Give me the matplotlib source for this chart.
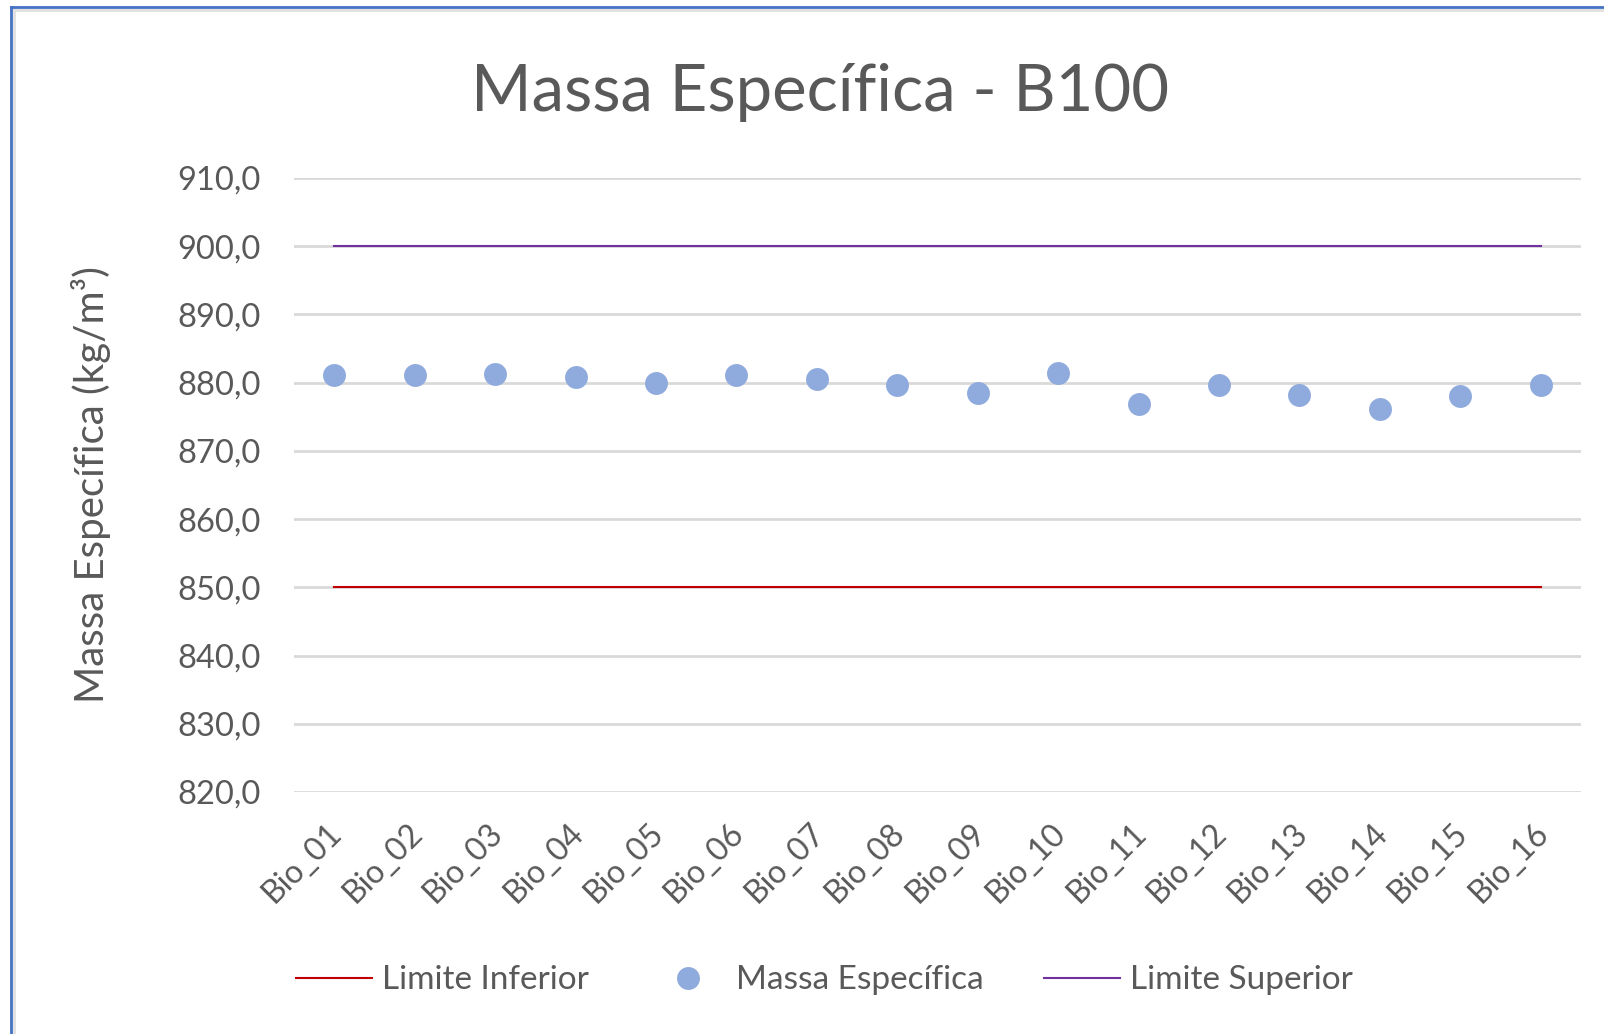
import matplotlib
matplotlib.use('Agg')
import matplotlib.pyplot as plt
import matplotlib.transforms as mtransforms
from matplotlib.lines import Line2D

plt.rcParams['font.family'] = ['Lato', 'DejaVu Sans']

# dados
amostras = ['Bio_01', 'Bio_02', 'Bio_03', 'Bio_04', 'Bio_05', 'Bio_06', 'Bio_07', 'Bio_08',
            'Bio_09', 'Bio_10', 'Bio_11', 'Bio_12', 'Bio_13', 'Bio_14', 'Bio_15', 'Bio_16']
massa = [881.1, 881.1, 881.3, 880.8, 880.0, 881.1, 880.5, 879.7,
         878.5, 881.4, 876.9, 879.7, 878.2, 876.2, 878.0, 879.7]
lim_inf = [850.0] * len(amostras)
lim_sup = [900.0] * len(amostras)
yticks = [820, 830, 840, 850, 860, 870, 880, 890, 900, 910]

cinza = '#595959'
W, H = 1604, 1034
fig = plt.figure(figsize=(W / 100, H / 100), dpi=100)
ax = fig.add_axes([294 / W, 1 - 792 / H, (1581 - 294) / W, (792 - 178) / H])

x = list(range(len(amostras)))
ax.plot(x, lim_inf, color='#C00000', lw=1.5, label='Limite Inferior', zorder=3)
ax.plot(x, massa, 'o', color='#8FAADC', ms=16.5, mec='none', label='Massa Específica', zorder=4)
ax.plot(x, lim_sup, color='#7030A0', lw=1.5, label='Limite Superior', zorder=3)

ax.set_xlim(-0.5, len(amostras) - 0.5)
ax.set_ylim(820, 910)
ax.set_yticks(yticks)
ax.set_yticklabels([f'{v:.1f}'.replace('.', ',') for v in yticks])
ax.yaxis.grid(True, color='#D9D9D9', lw=2)
ax.set_axisbelow(True)
for s in ax.spines.values():
    s.set_visible(False)
ax.tick_params(axis='y', length=0, pad=24, labelsize=23.5, labelcolor=cinza)
ax.tick_params(axis='x', length=0, pad=19, labelsize=23, labelcolor=cinza)
ax.set_xticks(x)
ax.set_xticklabels(amostras, rotation=45, ha='right', va='top', rotation_mode='anchor')
desloc = mtransforms.ScaledTranslation(-0.08, 0, fig.dpi_scale_trans)
for lbl in ax.get_xticklabels():
    lbl.set_transform(lbl.get_transform() + desloc)

fig.text(0.511, 0.911, 'Massa Específica - B100', ha='center', va='center',
         fontsize=47, color=cinza)
fig.text(0.057, 0.531, 'Massa Específica (kg/m³)', ha='center', va='center',
         rotation=90, fontsize=29, color=cinza)

leg = fig.legend(loc='center', bbox_to_anchor=(0.514, 0.052), ncol=3, frameon=False,
                 fontsize=24, handlelength=2.3, columnspacing=1.8, handletextpad=0.3)
for t in leg.get_texts():
    t.set_color(cinza)

# moldura (só topo e esquerda aparecem na imagem)
fig.add_artist(Line2D([11 / W, 11 / W], [0, 1 - 7 / H], color='#4472C4', lw=2))
fig.add_artist(Line2D([11 / W, 1], [1 - 7 / H, 1 - 7 / H], color='#4472C4', lw=2))
fig.add_artist(Line2D([14 / W, 14 / W], [0, 1 - 10 / H], color='#E0E0E0', lw=2))
fig.add_artist(Line2D([14 / W, 1], [1 - 10 / H, 1 - 10 / H], color='#E0E0E0', lw=2))

fig.savefig('out.png', dpi=100)
